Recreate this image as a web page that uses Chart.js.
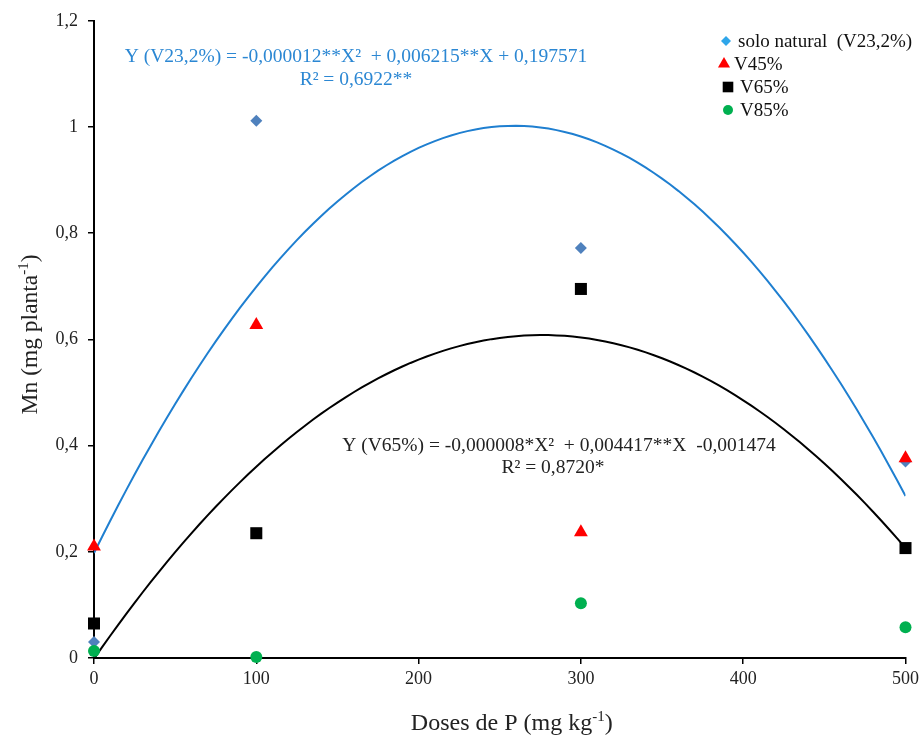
<!DOCTYPE html>
<html><head><meta charset="utf-8">
<script src="https://cdn.jsdelivr.net/npm/chart.js@4.4.0/dist/chart.umd.min.js"></script>
<style>html,body{margin:0;padding:0;background:#fff;}#wrap{width:923px;height:736px;position:relative;}</style>
</head><body><div id="wrap"><canvas id="c"></canvas></div>
<script>
// P doses (mg kg-1) and Mn content (mg planta-1) per base saturation level
const doses = [0, 100, 300, 500];
const soloNatural = [0.030, 1.012, 0.772, 0.370];
const v45 = [0.210, 0.627, 0.237, 0.376];
const v65 = [0.065, 0.235, 0.695, 0.207];
const v85 = [0.013, 0.002, 0.103, 0.058];
const seriesLabels = ['solo natural  (V23,2%)', 'V45%', 'V65%', 'V85%'];
const xTicks = [0, 100, 200, 300, 400, 500];
const yTicks = [0, 0.2, 0.4, 0.6, 0.8, 1, 1.2];
// fitted quadratics Y = a·X² + b·X + c
const fitSolo = [-0.000012, 0.006215, 0.197571];
const fitV65 = [-0.000008, 0.004417, -0.001474];
const eqSolo = ['Y (V23,2%) = -0,000012**X\u00B2  + 0,006215**X + 0,197571', 'R\u00B2 = 0,6922**'];
const eqV65 = ['Y (V65%) = -0,000008*X\u00B2  + 0,004417**X  -0,001474', 'R\u00B2 = 0,8720*'];

const SERIF = '"Liberation Serif", "Times New Roman", serif';
const pts = (ys) => doses.map((x, i) => ({x, y: ys[i]}));
const curve = (k) => {
  const out = [];
  for (let x = 0; x <= 500; x += 5) out.push({x, y: k[0] * x * x + k[1] * x + k[2]});
  return out;
};
const fmt = (v) => String(Math.round(v * 10) / 10).replace('.', ',');

const extras = {
  id: 'extras',
  afterDraw(chart) {
    const ctx = chart.ctx, ca = chart.chartArea;
    ctx.save();
    // axis titles with superscript exponents
    const supText = (parts, x, y, size) => {
      const sSize = Math.round(size * 0.62);
      let w = 0;
      parts.forEach(p => { ctx.font = (p.sup ? sSize : size) + 'px ' + SERIF; w += ctx.measureText(p.t).width; });
      let cx = x - w / 2;
      ctx.textBaseline = 'alphabetic'; ctx.textAlign = 'left';
      parts.forEach(p => {
        ctx.font = (p.sup ? sSize : size) + 'px ' + SERIF;
        ctx.fillText(p.t, cx, p.sup ? y - size * 0.38 : y);
        cx += ctx.measureText(p.t).width;
      });
    };
    ctx.fillStyle = '#222';
    supText([{t: 'Doses de P (mg kg'}, {t: '-1', sup: true}, {t: ')'}], (ca.left + ca.right) / 2 + 12, 730, 24);
    ctx.save();
    ctx.translate(37, (ca.top + ca.bottom) / 2 - 5);
    ctx.rotate(-Math.PI / 2);
    supText([{t: 'Mn (mg planta'}, {t: '-1', sup: true}, {t: ')'}], 0, 0, 23.5);
    ctx.restore();

    // regression equations
    ctx.textAlign = 'center'; ctx.textBaseline = 'middle';
    ctx.font = '19.5px ' + SERIF;
    ctx.fillStyle = '#2B87D3';
    ctx.fillText(eqSolo[0], 356, 57);
    ctx.fillText(eqSolo[1], 356, 80);
    ctx.fillStyle = '#222';
    ctx.fillText(eqV65[0], 559, 446);
    ctx.fillText(eqV65[1], 553, 468);

    // legend
    ctx.textAlign = 'left';
    ctx.font = '19px ' + SERIF;
    const rows = [
      {dx: 726, tx: 738, y: 41, ds: 1, color: '#2FA6EA', r: 5},
      {dx: 724, tx: 734, y: 64, ds: 0, r: 7},
      {dx: 728, tx: 740, y: 87, ds: 2, r: 7.5},
      {dx: 728, tx: 740, y: 110, ds: 3, r: 5}
    ];
    rows.forEach(row => {
      const ds = chart.data.datasets[row.ds];
      ctx.fillStyle = row.color || ds.backgroundColor;
      ctx.strokeStyle = row.color || ds.borderColor;
      Chart.helpers.drawPoint(ctx, {pointStyle: ds.pointStyle, radius: row.r, borderWidth: 0, rotation: 0}, row.dx, row.y);
      ctx.fillStyle = '#111';
      ctx.fillText(ds.label, row.tx, row.y + 1);
    });
    ctx.restore();
  }
};

new Chart(document.getElementById('c'), {
  type: 'scatter',
  data: {
    datasets: [
      {label: seriesLabels[1], data: pts(v45), pointStyle: 'triangle', pointRadius: 8, backgroundColor: '#FF0000', borderColor: '#FF0000', borderWidth: 0, order: 1, clip: false},
      {label: seriesLabels[0], data: pts(soloNatural), pointStyle: 'rectRot', pointRadius: 6, backgroundColor: '#4F81BD', borderColor: '#4F81BD', borderWidth: 0, order: 2, clip: false},
      {label: seriesLabels[2], data: pts(v65), pointStyle: 'rect', pointRadius: 8.5, backgroundColor: '#000000', borderColor: '#000000', borderWidth: 0, order: 3, clip: false},
      {label: seriesLabels[3], data: pts(v85), pointStyle: 'circle', pointRadius: 6, backgroundColor: '#00B050', borderColor: '#00B050', borderWidth: 0, order: 0, clip: false},
      {label: 'fit solo natural', data: curve(fitSolo), showLine: true, pointRadius: 0, borderColor: '#1F7FD0', borderWidth: 2, fill: false, order: 5},
      {label: 'fit V65%', data: curve(fitV65), showLine: true, pointRadius: 0, borderColor: '#000000', borderWidth: 2, fill: false, order: 6}
    ]
  },
  options: {
    responsive: true,
    maintainAspectRatio: false,
    animation: false,
    devicePixelRatio: 1,
    layout: {padding: {left: 0, right: 17, top: 20, bottom: 0}},
    plugins: {legend: {display: false}, tooltip: {enabled: false}},
    scales: {
      x: {
        type: 'linear', min: 0, max: 500,
        afterBuildTicks: (s) => { s.ticks = xTicks.map(v => ({value: v})); },
        afterFit: (s) => { s.height = 78; },
        ticks: {color: '#222', font: {family: SERIF, size: 18}, padding: 4, maxRotation: 0},
        grid: {drawOnChartArea: false, drawTicks: true, tickLength: 6, color: '#000', lineWidth: 1.5},
        border: {color: '#000', width: 2}
      },
      y: {
        type: 'linear', min: 0, max: 1.2,
        afterBuildTicks: (s) => { s.ticks = yTicks.map(v => ({value: v})); },
        afterFit: (s) => { s.width = 94; },
        ticks: {color: '#222', font: {family: SERIF, size: 18}, padding: 10, callback: (v) => fmt(v)},
        grid: {drawOnChartArea: false, drawTicks: true, tickLength: 6, color: '#000', lineWidth: 1.5},
        border: {color: '#000', width: 2}
      }
    }
  },
  plugins: [extras]
});
</script>
</body></html>
